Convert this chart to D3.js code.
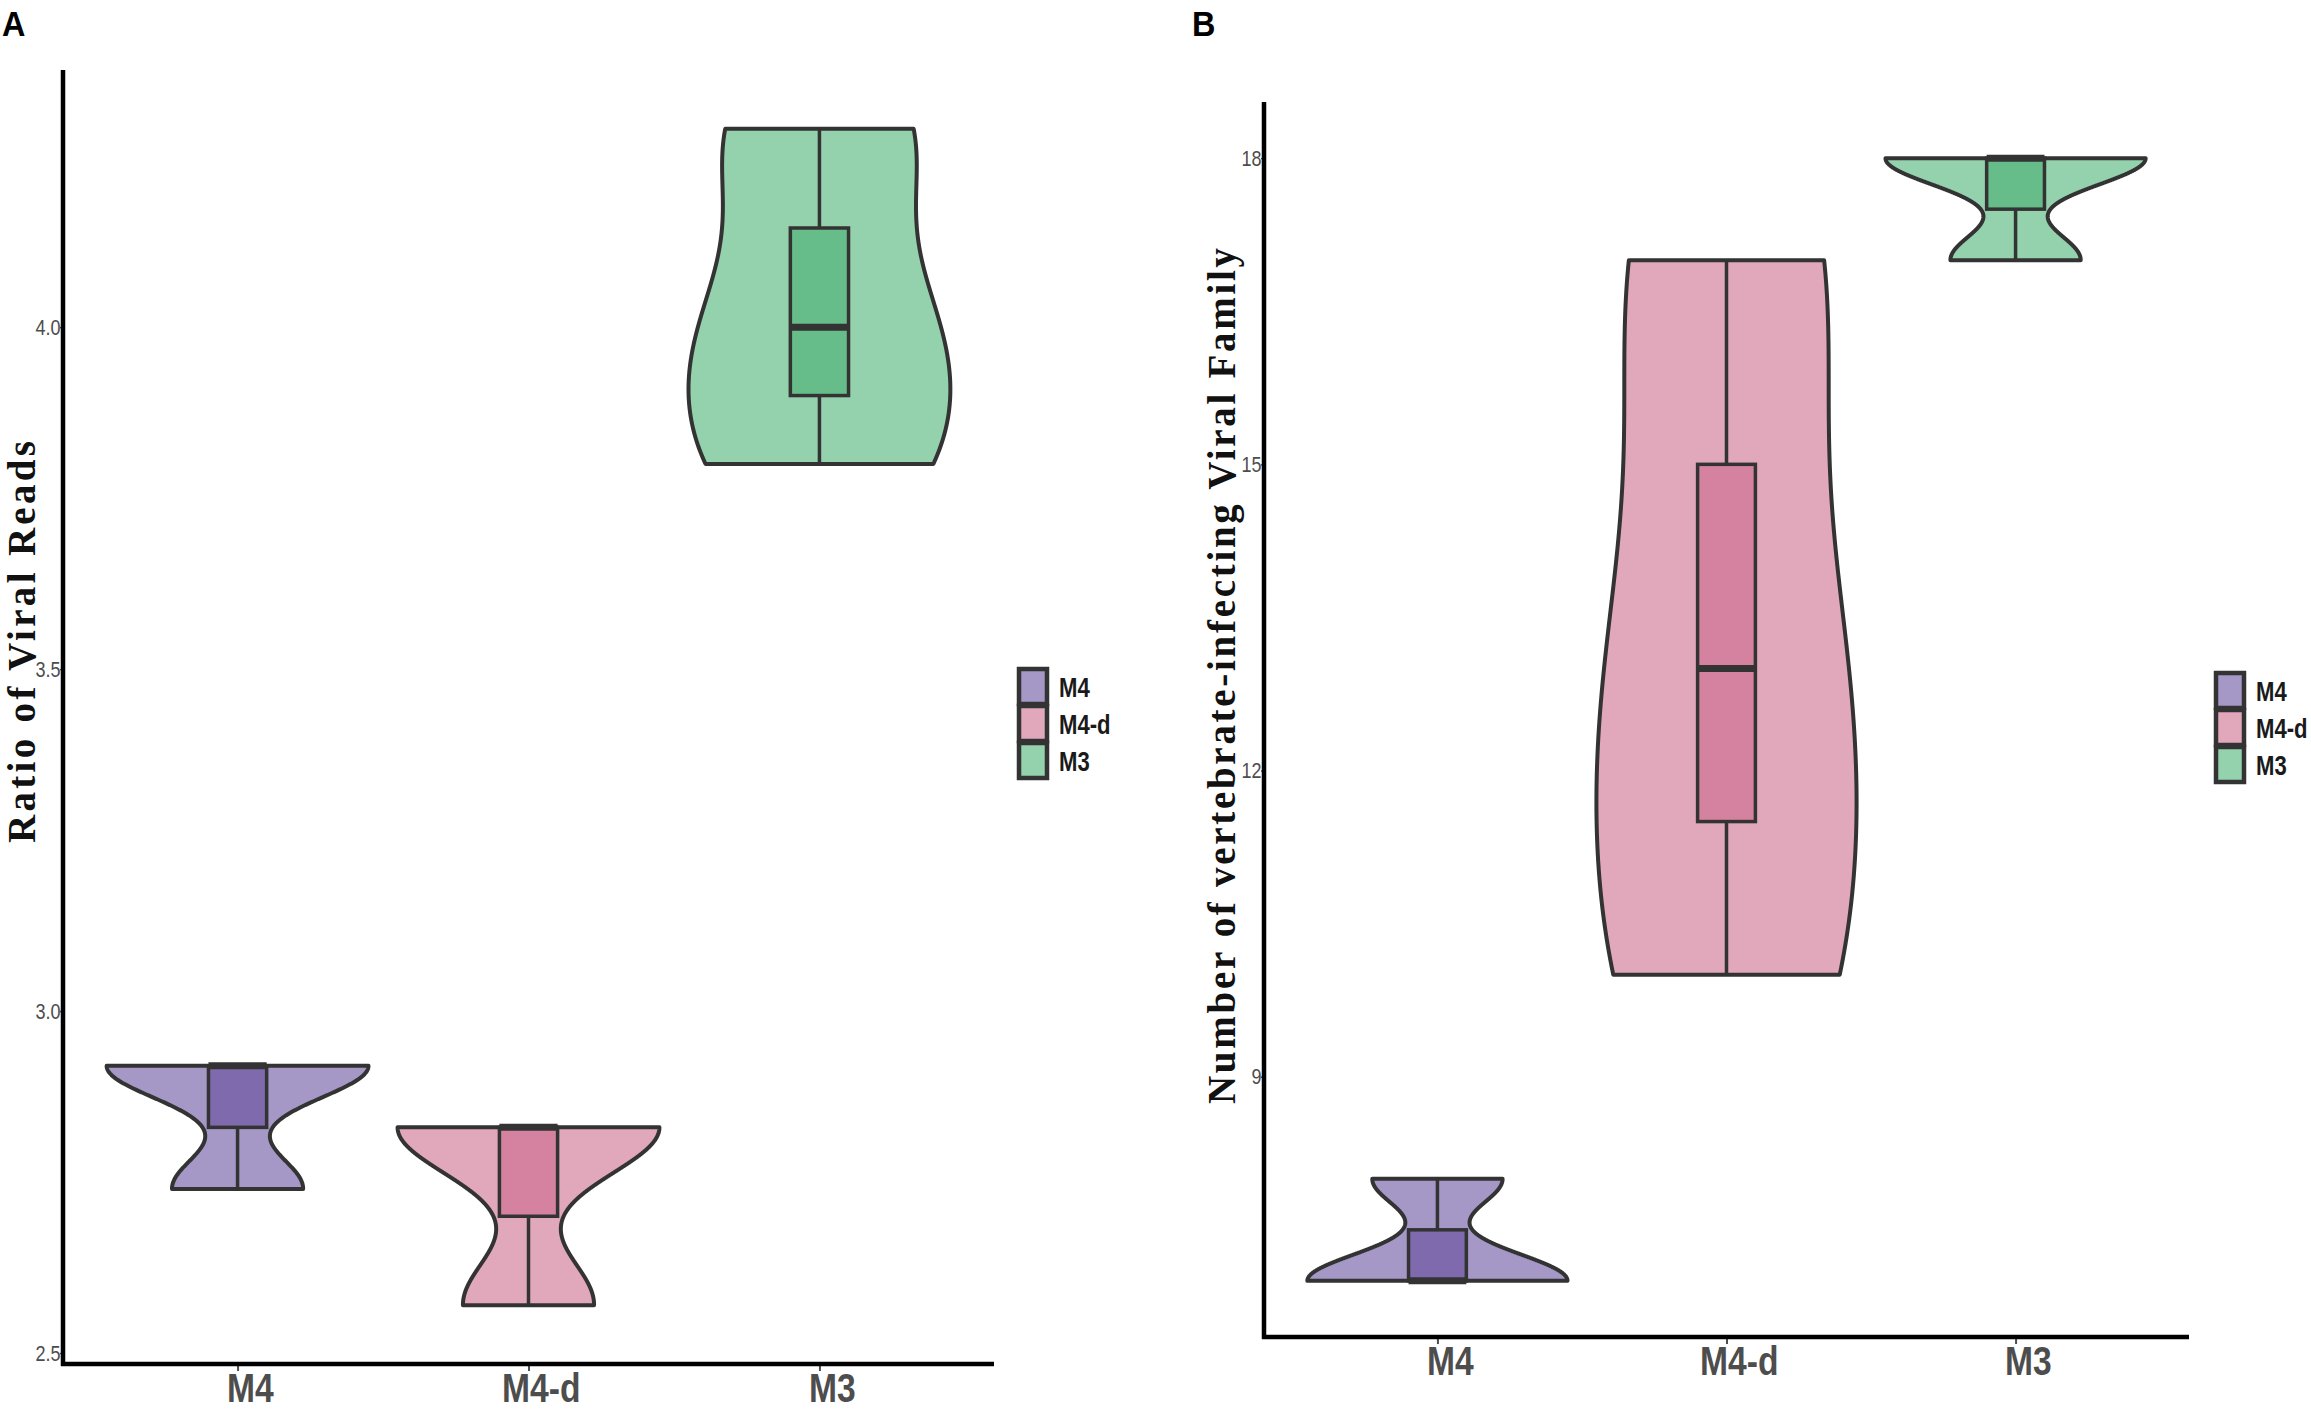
<!DOCTYPE html>
<html>
<head>
<meta charset="utf-8">
<script src="https://cdn.jsdelivr.net/npm/d3@7"></script>
<style>
  body { margin: 0; background: #fff; }
  svg { display: block; }
</style>
</head>
<body>
<svg id="chart" width="2311" height="1412"></svg>
<script>
// groups and raw samples
var groups = ["M4", "M4-d", "M3"];
var readsM4 = [2.74, 2.92, 2.92];
var readsM4d = [2.57, 2.83, 2.83];
var readsM3 = [3.80, 4.00, 4.29];
var familyM4 = [7, 7, 8];
var familyM4d = [10, 13, 17];
var familyM3 = [17, 18, 18];
var ticksA = [2.5, 3.0, 3.5, 4.0];
var ticksB = [9, 12, 15, 18];

var violinFill = ["#a597c6", "#e1a8bc", "#94d1ad"];
var boxFill = ["#7f6aae", "#d4829f", "#66bd8a"];
var ink = "#333333";
var sans = "'Liberation Sans', Arial, sans-serif";

var svg = d3.select("#chart");

// gaussian kde, bw.nrd0, trimmed to the data range
function kde(values, n) {
  var sd = d3.deviation(values);
  var iqr = d3.quantile(values, 0.75) - d3.quantile(values, 0.25);
  var lo = Math.min(sd, iqr / 1.34);
  if (!lo) lo = sd || 1;
  var bw = 0.9 * lo * Math.pow(values.length, -0.2);
  var ext = d3.extent(values);
  return d3.range(n).map(function(i) {
    var v = ext[0] + (ext[1] - ext[0]) * i / (n - 1);
    var dens = d3.mean(values, function(x) {
      var z = (v - x) / bw;
      return Math.exp(-0.5 * z * z);
    }) / (bw * Math.sqrt(2 * Math.PI));
    return { v: v, dens: dens };
  });
}

function expand(values) {
  var ext = d3.extent(values);
  var pad = (ext[1] - ext[0]) * 0.05;
  return [ext[0] - pad, ext[1] + pad];
}

// fake a narrow face by squeezing Liberation Sans
function narrow(sel, size, bold) {
  sel.style("font-family", sans)
    .style("font-size", size + "px")
    .style("font-weight", bold ? "bold" : "normal");
}

function drawPanel(p) {
  var g = svg.append("g");
  var all = d3.merge(p.data);

  var x = d3.scalePoint().domain(groups).range(p.xRange).padding(0.6);
  var y = d3.scaleLinear().domain(expand(all)).range(p.yRange);
  var step = x.step();

  // violins
  p.data.forEach(function(vals, i) {
    var cx = x(groups[i]);
    var dens = kde(vals, 512);
    var maxD = d3.max(dens, function(d) { return d.dens; });
    var w = d3.scaleLinear().domain([0, maxD]).range([0, step * 0.45]);

    var area = d3.area()
      .y(function(d) { return y(d.v); })
      .x0(function(d) { return cx - w(d.dens); })
      .x1(function(d) { return cx + w(d.dens); });

    g.append("path")
      .datum(dens)
      .attr("d", area)
      .attr("fill", violinFill[i])
      .attr("stroke", ink)
      .attr("stroke-width", 4)
      .attr("stroke-linejoin", "round");

    // boxplot
    var sorted = vals.slice().sort(d3.ascending);
    var q1 = d3.quantile(sorted, 0.25),
        med = d3.quantile(sorted, 0.5),
        q3 = d3.quantile(sorted, 0.75);
    var iqr = q3 - q1;
    var lowW = d3.min(sorted.filter(function(v) { return v >= q1 - 1.5 * iqr; }));
    var highW = d3.max(sorted.filter(function(v) { return v <= q3 + 1.5 * iqr; }));
    var bw = step * 0.2;

    g.append("line")
      .attr("x1", cx).attr("x2", cx)
      .attr("y1", y(q3)).attr("y2", y(highW))
      .attr("stroke", ink).attr("stroke-width", 3.5);
    g.append("line")
      .attr("x1", cx).attr("x2", cx)
      .attr("y1", y(q1)).attr("y2", y(lowW))
      .attr("stroke", ink).attr("stroke-width", 3.5);
    g.append("rect")
      .attr("x", cx - bw / 2)
      .attr("y", y(q3))
      .attr("width", bw)
      .attr("height", Math.max(0, y(q1) - y(q3)))
      .attr("fill", boxFill[i])
      .attr("stroke", ink)
      .attr("stroke-width", 3.5);
    g.append("line")
      .attr("x1", cx - bw / 2).attr("x2", cx + bw / 2)
      .attr("y1", y(med)).attr("y2", y(med))
      .attr("stroke", ink).attr("stroke-width", 7);
  });

  // axes
  var yAxis = g.append("g")
    .attr("transform", "translate(" + p.xRange[0] + ",0)")
    .call(d3.axisLeft(y).tickValues(p.ticks).tickSize(3).tickPadding(0)
      .tickFormat(d3.format(p.fmt)));
  yAxis.select(".domain").remove();
  yAxis.selectAll(".tick line").attr("stroke", "#4d4d4d").attr("stroke-width", 1.5);
  yAxis.selectAll(".tick text")
    .attr("fill", "#4d4d4d")
    .attr("transform", "scale(0.82,1)")
    .call(narrow, 22, false);

  var xAxis = g.append("g")
    .attr("transform", "translate(0," + p.yRange[0] + ")")
    .call(d3.axisBottom(x).tickSize(7).tickPadding(2));
  xAxis.select(".domain").remove();
  xAxis.selectAll(".tick line").attr("stroke", "#4d4d4d").attr("stroke-width", 2);
  xAxis.selectAll(".tick text")
    .attr("fill", "#4d4d4d")
    .attr("dx", 15)
    .attr("transform", "scale(0.82,1)")
    .call(narrow, 41, true);

  g.append("line")
    .attr("x1", p.xRange[0]).attr("x2", p.xRange[0])
    .attr("y1", p.yRange[1]).attr("y2", p.yRange[0] + 2)
    .attr("stroke", "#000").attr("stroke-width", 4.5);
  g.append("line")
    .attr("x1", p.xRange[0] - 2).attr("x2", p.xRange[1])
    .attr("y1", p.yRange[0]).attr("y2", p.yRange[0])
    .attr("stroke", "#000").attr("stroke-width", 4.5);

  // axis title
  g.append("text")
    .attr("transform", "translate(" + p.titleX + "," + p.titleY + ") rotate(-90)")
    .attr("text-anchor", "middle")
    .attr("textLength", p.titleLen)
    .attr("lengthAdjust", "spacing")
    .style("font-family", "'Liberation Serif', 'DejaVu Serif', serif")
    .style("font-weight", "bold")
    .style("font-size", "39px")
    .attr("fill", "#111")
    .text(p.title);

  // panel letter
  g.append("text")
    .attr("transform", "translate(" + p.labelX + ",36) scale(0.9,1)")
    .style("font-family", sans)
    .style("font-weight", "bold")
    .style("font-size", "36px")
    .attr("fill", "#000")
    .text(p.label);

  // legend
  var keyH = 37;
  var leg = g.append("g").attr("transform", "translate(" + p.legX + "," + p.legY + ")");
  groups.forEach(function(name, i) {
    leg.append("rect")
      .attr("x", 2).attr("y", i * keyH + 2)
      .attr("width", 28).attr("height", keyH - 2)
      .attr("fill", violinFill[i])
      .attr("stroke", ink)
      .attr("stroke-width", 4.5);
    leg.append("text")
      .attr("transform", "translate(42," + (i * keyH + keyH / 2 + 11) + ") scale(0.82,1)")
      .attr("fill", "#1a1a1a")
      .call(narrow, 27, true)
      .text(name);
  });
}

drawPanel({
  label: "A", labelX: 2,
  data: [readsM4, readsM4d, readsM3],
  ticks: ticksA, fmt: ".1f",
  xRange: [63, 994], yRange: [1364, 70],
  title: "Ratio of Viral Reads", titleX: 35, titleY: 642, titleLen: 402,
  legX: 1017, legY: 667
});

drawPanel({
  label: "B", labelX: 1192,
  data: [familyM4, familyM4d, familyM3],
  ticks: ticksB, fmt: "d",
  xRange: [1264, 2189], yRange: [1337, 102],
  title: "Number of vertebrate-infecting Viral Family", titleX: 1235, titleY: 676, titleLen: 856,
  legX: 2214, legY: 671
});
</script>
</body>
</html>
